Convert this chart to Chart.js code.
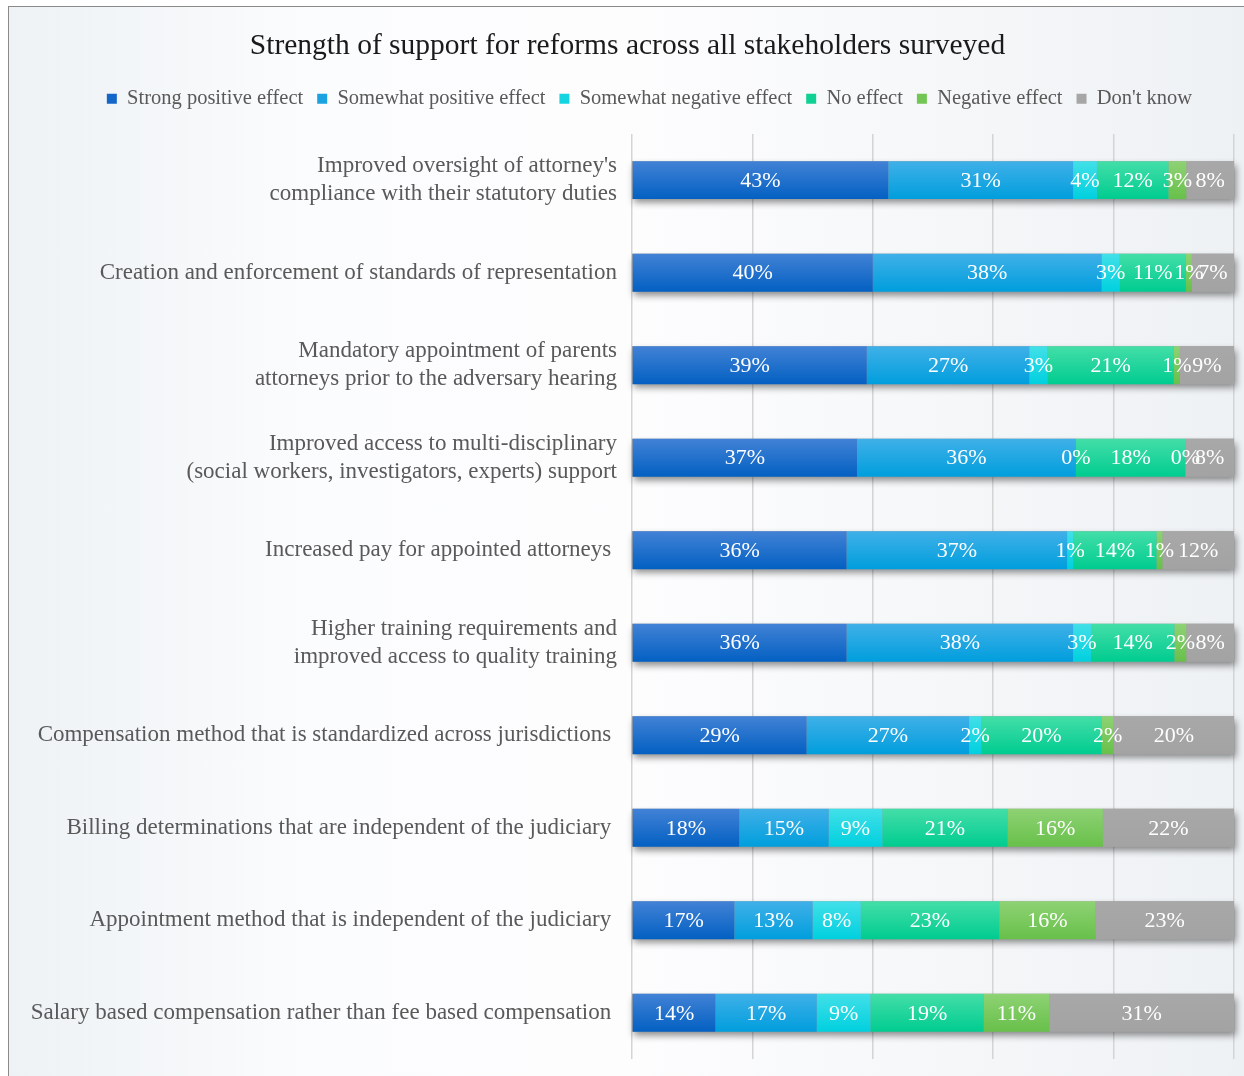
<!DOCTYPE html>
<html>
<head>
<meta charset="utf-8">
<script src="https://cdn.jsdelivr.net/npm/chart.js@4/dist/chart.umd.min.js"></script>
<style>
    html, body { margin: 0; padding: 0; background: #ffffff; }
    #frame {
        position: absolute;
        left: 8px;
        top: 6px;
        width: 1236px;
        height: 1070px;
        border-left: 1.5px solid #8a8a8a;
        border-top: 1.5px solid #8a8a8a;
        background: linear-gradient(to right, #eef2f5 0%, #fbfcfd 25%, #fdfdfe 50%, #f4f6f8 80%, #eef1f4 100%);
    }
    canvas { display: block; }
</style>
</head>
<body>
<div id="frame"><canvas id="supportChart" width="1235" height="1069"></canvas></div>
<script>
// reform categories (top to bottom)
const reforms = [
    ["Improved oversight of attorney's", "compliance with their statutory duties"],
    "Creation and enforcement of standards of representation",
    ["Mandatory appointment of parents", "attorneys prior to the adversary hearing"],
    ["Improved access to multi-disciplinary", "(social workers, investigators, experts) support"],
    "Increased pay for appointed attorneys ",
    ["Higher training requirements and", "improved access to quality training"],
    "Compensation method that is standardized across jurisdictions ",
    "Billing determinations that are independent of the judiciary ",
    "Appointment method that is independent of the judiciary ",
    "Salary based compensation rather than fee based compensation "
];

// percentages as printed on the bars
const strongPositive   = [43, 40, 39, 37, 36, 36, 29, 18, 17, 14];
const somewhatPositive = [31, 38, 27, 36, 37, 38, 27, 15, 13, 17];
const somewhatNegative = [4, 3, 3, 0, 1, 3, 2, 9, 8, 9];
const noEffect         = [12, 11, 21, 18, 14, 14, 20, 21, 23, 19];
const negativeEffect   = [3, 1, 1, 0, 1, 2, 2, 16, 16, 11];
const dontKnow         = [8, 7, 9, 8, 12, 8, 20, 22, 23, 31];

const xTicks = [0, 20, 40, 60, 80, 100];

const serif = "'Liberation Serif', 'DejaVu Serif', serif";
const barPct = 0.41;

const series = [
    { label: 'Strong positive effect',   values: strongPositive,   top: '#4282d6', bottom: '#0360c2', base: '#1466c8' },
    { label: 'Somewhat positive effect', values: somewhatPositive, top: '#40b0e8', bottom: '#009edd', base: '#1aa3e0' },
    { label: 'Somewhat negative effect', values: somewhatNegative, top: '#42e0e8', bottom: '#00d0df', base: '#14d4e2' },
    { label: 'No effect',                values: noEffect,         top: '#44dea8', bottom: '#00cc90', base: '#10d094' },
    { label: 'Negative effect',          values: negativeEffect,   top: '#8ed274', bottom: '#68c04a', base: '#74c654' },
    { label: "Don't know",               values: dontKnow,         top: '#a8a8a8', bottom: '#a3a3a3', base: '#a6a6a6' }
];

// each bar is stretched to 100% of the row
const rowTotals = reforms.map((_, i) => series.reduce((s, d) => s + d.values[i], 0));

function barFill(top, bottom) {
    return (context) => {
        const chart = context.chart;
        const yScale = chart.scales.y;
        if (context.type !== 'data' || !yScale || !chart.chartArea) return bottom;
        const band = (yScale.bottom - yScale.top) / reforms.length;
        const half = band * barPct / 2;
        const cy = yScale.getPixelForValue(context.dataIndex);
        const g = chart.ctx.createLinearGradient(0, cy - half, 0, cy + half);
        g.addColorStop(0, top);
        g.addColorStop(1, bottom);
        return g;
    };
}

// extra room between legend and plot, nudge legend and title right
const headerTweak = {
    id: 'headerTweak',
    afterInit(chart) {
        const legend = chart.legend;
        const fit = legend.fit;
        legend.fit = function () {
            fit.call(legend);
            this.height += 15;
        };
    },
    afterLayout(chart) {
        chart.legend.left += 28;
        chart.legend.right += 28;
        chart.titleBlock.left += 6;
        chart.titleBlock.right += 6;
    }
};

// soft drop shadow under every row
const barShadow = {
    id: 'barShadow',
    beforeDatasetsDraw(chart) {
        const { ctx, scales: { x, y } } = chart;
        const band = (y.bottom - y.top) / reforms.length;
        const h = band * barPct;
        const x0 = x.getPixelForValue(0);
        const x1 = x.getPixelForValue(100);
        ctx.save();
        ctx.shadowColor = 'rgba(0, 0, 0, 0.45)';
        ctx.shadowBlur = 7;
        ctx.shadowOffsetX = 2;
        ctx.shadowOffsetY = 4;
        ctx.fillStyle = '#999999';
        reforms.forEach((_, i) => {
            const cy = y.getPixelForValue(i);
            ctx.fillRect(x0, cy - h / 2, x1 - x0, h);
        });
        ctx.restore();
    }
};

// percentage labels in the middle of each segment
const segmentLabels = {
    id: 'segmentLabels',
    afterDatasetsDraw(chart) {
        const ctx = chart.ctx;
        ctx.save();
        ctx.font = `22px ${serif}`;
        ctx.fillStyle = '#ffffff';
        ctx.textAlign = 'center';
        ctx.textBaseline = 'middle';
        chart.data.datasets.forEach((ds, di) => {
            const meta = chart.getDatasetMeta(di);
            meta.data.forEach((bar, i) => {
                const p = bar.getCenterPoint();
                ctx.fillText(`${series[di].values[i]}%`, p.x, p.y + 1);
            });
        });
        ctx.restore();
    }
};

const chart = new Chart(document.getElementById('supportChart'), {
    type: 'bar',
    data: {
        labels: reforms,
        datasets: series.map(s => ({
            label: s.label,
            data: s.values.map((v, i) => v / rowTotals[i] * 100),
            backgroundColor: barFill(s.top, s.bottom),
            borderWidth: 0,
            barPercentage: barPct,
            categoryPercentage: 1
        }))
    },
    options: {
        indexAxis: 'y',
        responsive: false,
        animation: false,
        devicePixelRatio: 1,
        layout: {
            padding: { left: 0, right: 10, top: 0, bottom: 17 }
        },
        plugins: {
            title: {
                display: true,
                text: 'Strength of support for reforms across all stakeholders surveyed',
                color: '#1a1a1a',
                font: { family: serif, size: 29.5, weight: 'normal' },
                padding: { top: 22, bottom: 10 }
            },
            legend: {
                position: 'top',
                labels: {
                    color: '#595959',
                    font: { family: serif, size: 20.5 },
                    boxWidth: 10,
                    boxHeight: 10,
                    padding: 14,
                    generateLabels(chart) {
                        const items = Chart.defaults.plugins.legend.labels.generateLabels(chart);
                        items.forEach((item, i) => {
                            item.fillStyle = series[i].base;
                            item.strokeStyle = series[i].base;
                            item.lineWidth = 0;
                        });
                        return items;
                    }
                }
            },
            tooltip: { enabled: false }
        },
        scales: {
            x: {
                stacked: true,
                min: 0,
                max: 100,
                afterBuildTicks: scale => {
                    scale.ticks = xTicks.map(v => ({ value: v }));
                },
                afterFit: scale => { scale.height = 0; },
                ticks: { display: false },
                grid: { color: '#d4d4d4', lineWidth: 1.5, drawTicks: false },
                border: { display: false }
            },
            y: {
                stacked: true,
                afterFit: scale => {
                    scale.width = 623;
                    scale.paddingTop = 0;
                    scale.paddingBottom = 0;
                },
                ticks: {
                    color: '#595959',
                    font: { family: serif, size: 23 },
                    padding: 15,
                    autoSkip: false
                },
                grid: { display: false, drawTicks: false },
                border: { display: false }
            }
        }
    },
    plugins: [headerTweak, barShadow, segmentLabels]
});
</script>
</body>
</html>
